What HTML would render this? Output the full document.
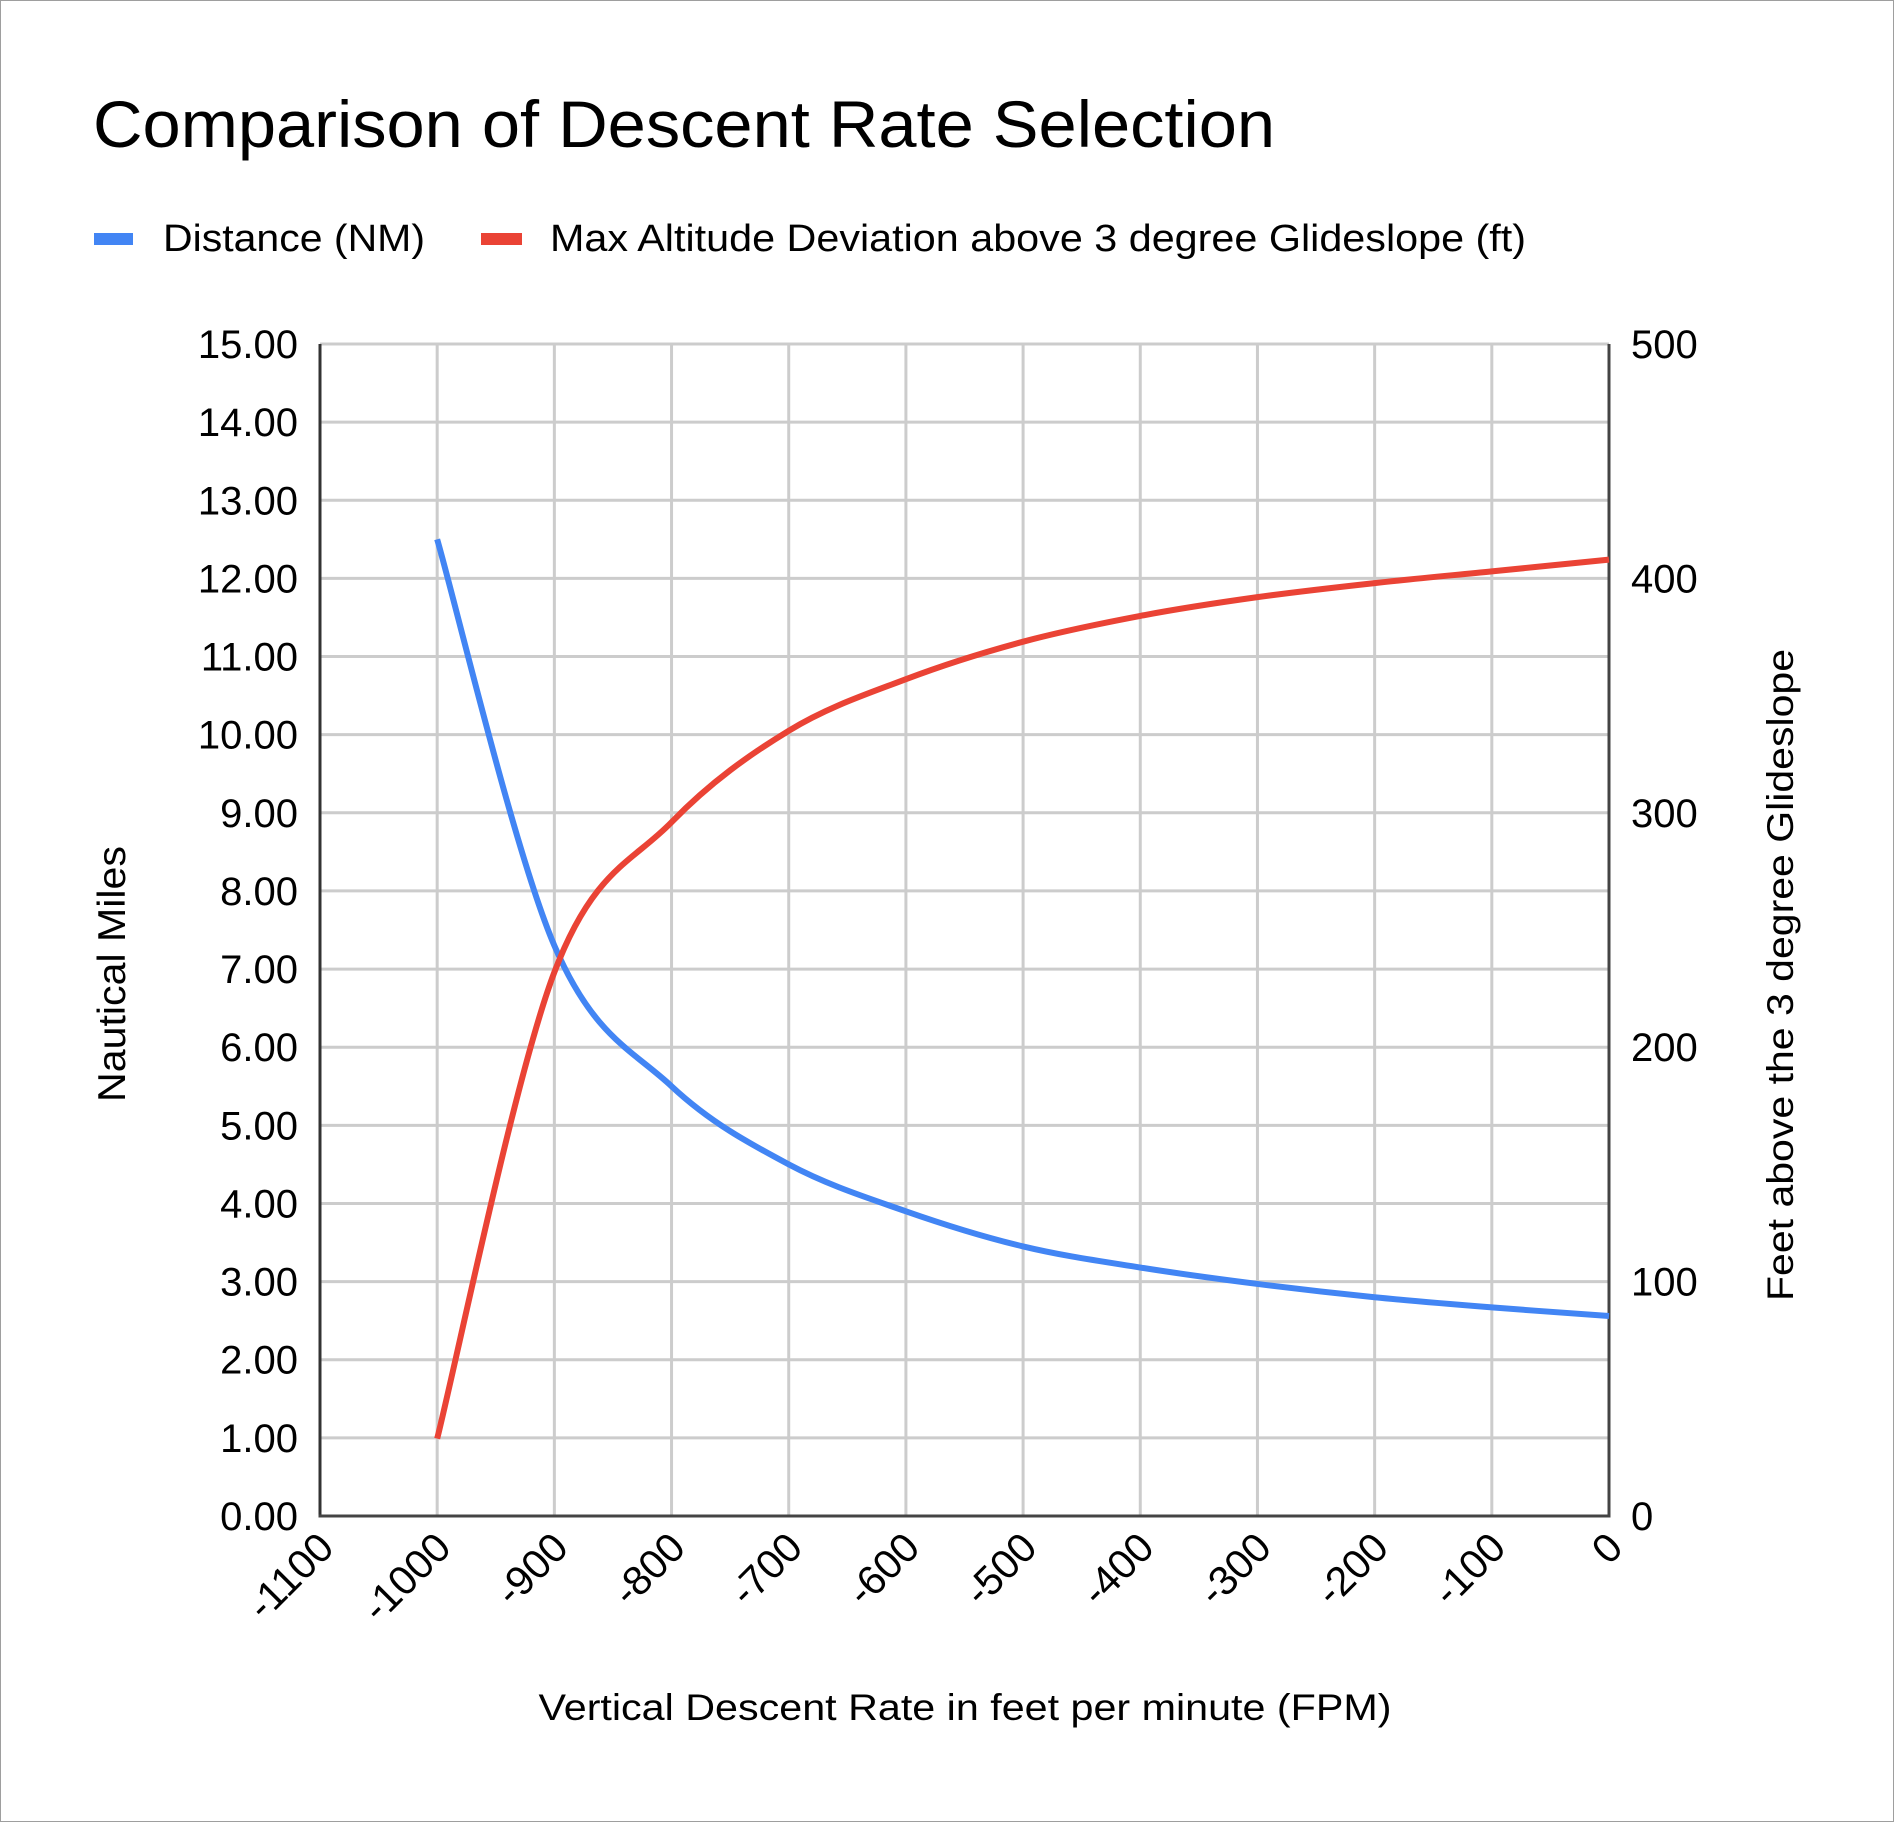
<!DOCTYPE html>
<html><head><meta charset="utf-8"><style>html,body{margin:0;padding:0;background:#fff}svg{display:block}text{font-family:"Liberation Sans",Arial,sans-serif;fill:#000}</style></head>
<body>
<svg id="s" width="1894" height="1822" viewBox="0 0 1894 1822" xmlns="http://www.w3.org/2000/svg">
<rect x="0.5" y="0.5" width="1893" height="1821" fill="#fff" stroke="#9e9e9e" stroke-width="1"/>
<text x="93" y="147" font-size="66" textLength="1182" lengthAdjust="spacingAndGlyphs">Comparison of Descent Rate Selection</text>
<rect x="94" y="233" width="39" height="12" fill="#4285f4"/>
<text x="163" y="251" font-size="38" textLength="262" lengthAdjust="spacingAndGlyphs">Distance (NM)</text>
<rect x="481" y="233" width="41" height="12" fill="#ea4335"/>
<text x="550" y="251" font-size="38" textLength="976" lengthAdjust="spacingAndGlyphs">Max Altitude Deviation above 3 degree Glideslope (ft)</text>
<g id="grid"></g>
<g id="series"></g>
<text transform="translate(125,974) rotate(-90)" text-anchor="middle" font-size="39" textLength="256" lengthAdjust="spacingAndGlyphs">Nautical Miles</text>
<text transform="translate(1793,975) rotate(-90)" text-anchor="middle" font-size="37" textLength="652" lengthAdjust="spacingAndGlyphs">Feet above the 3 degree Glideslope</text>
<text x="965" y="1720" text-anchor="middle" font-size="37" textLength="853" lengthAdjust="spacingAndGlyphs">Vertical Descent Rate in feet per minute (FPM)</text>
</svg>
<script>
var NS="http://www.w3.org/2000/svg";
var L=320,R=1609,T=344,B=1516;
var g=document.getElementById('grid'),se=document.getElementById('series');
function el(p,n,a,t){var e=document.createElementNS(NS,n);for(var k in a)e.setAttribute(k,a[k]);if(t!==undefined)e.textContent=t;p.appendChild(e);return e;}
var dx=(R-L)/11,dy=(B-T)/15;
for(var i=1;i<11;i++){var x=L+i*dx;el(g,'line',{x1:x,y1:T,x2:x,y2:B,stroke:'#cccccc','stroke-width':3});}
for(var j=1;j<=15;j++){var y=B-j*dy;el(g,'line',{x1:L,y1:y,x2:R,y2:y,stroke:'#cccccc','stroke-width':3});}
el(g,'line',{x1:L,y1:T,x2:L,y2:B+1.5,stroke:'#333','stroke-width':3});
el(g,'line',{x1:R,y1:T,x2:R,y2:B+1.5,stroke:'#444','stroke-width':3});
el(g,'line',{x1:L-1.5,y1:B,x2:R+1.5,y2:B,stroke:'#444','stroke-width':3});
for(var j=0;j<=15;j++){var y=B-j*dy;el(g,'text',{x:298,y:y+14,'text-anchor':'end','font-size':40},j.toFixed(2));}
for(var j=0;j<=5;j++){var y=B-j*3*dy;el(g,'text',{x:1631,y:y+14,'font-size':40},String(j*100));}
for(var i=0;i<=11;i++){var x=L+i*dx;var v=-1100+i*100;el(g,'text',{transform:'translate('+(x+16)+',1550) rotate(-45)','text-anchor':'end','font-size':41},String(v));}
var blue=[12.5,7.3,5.5,4.5,3.9,3.45,3.18,2.97,2.8,2.67,2.56];
var red=[33,232,296,335,357,373,384,392,398,403,408];
function path(vals,max){var pts=vals.map(function(v,i){return [L+(i+1)*dx,B-v/max*(B-T)];});
var d='M'+pts[0][0]+','+pts[0][1];
for(var i=0;i<pts.length-1;i++){var p0=pts[Math.max(0,i-1)],p1=pts[i],p2=pts[i+1],p3=pts[Math.min(pts.length-1,i+2)];
var c1=[p1[0]+(p2[0]-p0[0])/6,p1[1]+(p2[1]-p0[1])/6],c2=[p2[0]-(p3[0]-p1[0])/6,p2[1]-(p3[1]-p1[1])/6];
d+=' C'+c1[0]+','+c1[1]+' '+c2[0]+','+c2[1]+' '+p2[0]+','+p2[1];}return d;}
el(se,'path',{d:path(blue,15),fill:'none',stroke:'#4285f4','stroke-width':6,'stroke-linejoin':'round'});
el(se,'path',{d:path(red,500),fill:'none',stroke:'#ea4335','stroke-width':6,'stroke-linejoin':'round'});
</script>
</body></html>
